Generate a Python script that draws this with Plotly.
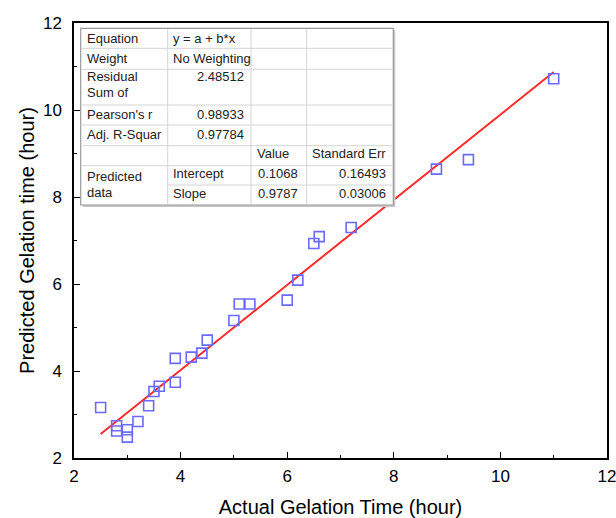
import plotly.graph_objects as go

# ---------------- data ----------------
actual_time = [2.5, 2.8, 2.8, 3.0, 3.0, 3.2, 3.4, 3.5, 3.6, 3.9, 3.9, 4.2, 4.4,
               4.5, 5.0, 5.1, 5.3, 6.0, 6.2, 6.5, 6.6, 7.2, 8.8, 9.4, 11.0]
predicted_time = [3.16, 2.74, 2.62, 2.65, 2.48, 2.84, 3.20, 3.53, 3.65, 3.74, 4.29,
                  4.32, 4.41, 4.71, 5.16, 5.54, 5.54, 5.63, 6.09, 6.93, 7.09, 7.30,
                  8.64, 8.86, 10.72]

fit_intercept = 0.1068
fit_slope = 0.9787
fit_range = [2.5, 11.0]

stat_labels = ["Equation", "Weight", "Residual", "Sum of", "Pearson's r", "Adj. R-Squar"]
stat_values = ["y = a + b*x", "No Weighting", "2.48512", "", "0.98933", "0.97784"]
param_header = ["Value", "Standard Err"]
param_group = ["Predicted", "data"]
param_names = ["Intercept", "Slope"]
param_values = ["0.1068", "0.9787"]
param_errors = ["0.16493", "0.03006"]

x_ticks = [2, 4, 6, 8, 10, 12]
y_ticks = [2, 4, 6, 8, 10, 12]

# ---------------- layout geometry ----------------
W, H = 616, 518
ML, MR, MT, MB = 74, 9, 23, 60
PW, PH = W - ML - MR, H - MT - MB


def px(xpix):
    return (xpix - ML) / PW


def py(ypix):
    return 1 - (ypix - MT) / PH


FONT = "Liberation Sans, Arial, sans-serif"

fig = go.Figure()

fit_y = [fit_intercept + fit_slope * v for v in fit_range]
fig.add_trace(go.Scatter(x=fit_range, y=fit_y, mode="lines",
                         line=dict(color="#ff2a2a", width=2), showlegend=False,
                         hoverinfo="skip"))
fig.add_trace(go.Scatter(x=actual_time, y=predicted_time, mode="markers",
                         marker=dict(symbol="square-open", size=10,
                                     color="#6a6aff", line=dict(width=1.6)),
                         showlegend=False))

shapes = []
annotations = []

# table frame
tl, tr, tt, tb = 80.7, 393.3, 28.3, 205
shapes.append(dict(type="rect", xref="paper", yref="paper",
                   x0=px(tl + 2), x1=px(tr + 2), y0=py(tb + 2), y1=py(tt + 2),
                   line=dict(width=0), fillcolor="#c8c8c8", layer="above"))
shapes.append(dict(type="rect", xref="paper", yref="paper",
                   x0=px(tl), x1=px(tr), y0=py(tb), y1=py(tt),
                   line=dict(color="#9a9a9a", width=1.2), fillcolor="white",
                   layer="above"))
cols = [80.7, 167.7, 251, 306.7, 393.3]
rows = [48.3, 69.3, 105, 125, 145.7, 165.7]
grid_c = "#d4d4d4"
for r in rows:
    shapes.append(dict(type="line", xref="paper", yref="paper",
                       x0=px(tl + 1), x1=px(tr - 1), y0=py(r), y1=py(r),
                       line=dict(color=grid_c, width=1), layer="above"))
shapes.append(dict(type="line", xref="paper", yref="paper",
                   x0=px(cols[1]), x1=px(tr - 1), y0=py(185), y1=py(185),
                   line=dict(color=grid_c, width=1), layer="above"))
for c in cols[1:-1]:
    shapes.append(dict(type="line", xref="paper", yref="paper",
                       x0=px(c), x1=px(c), y0=py(tt + 1), y1=py(tb - 1),
                       line=dict(color=grid_c, width=1), layer="above"))


def txt(text, xpix, ypix, anchor="left"):
    annotations.append(dict(text=text, xref="paper", yref="paper",
                            x=px(xpix), y=py(ypix), xanchor=anchor,
                            yanchor="middle", showarrow=False,
                            font=dict(family=FONT, size=13, color="#222")))


label_y = [38.3, 58.3, 76.7, 92.3, 114.3, 134.3]
for lab, yy in zip(stat_labels, label_y):
    txt(lab, 85, yy)
for val, yy in zip(stat_values, label_y):
    if not val:
        continue
    if val[0].isdigit():
        txt(val, 246, yy, "right")
    else:
        txt(val, 171, yy)

txt(param_header[0], 255, 153.3)
txt(param_header[1], 310, 153.3)
txt(param_group[0], 85, 176.7)
txt(param_group[1], 85, 192.7)
for name, v, e, yy in zip(param_names, param_values, param_errors, [173.3, 193.3]):
    txt(name, 171, yy)
    txt(v, 300, yy, "right")
    txt(e, 388, yy, "right")

axis_common = dict(showline=True, linecolor="black", linewidth=1.5, mirror=True,
                   ticks="inside", ticklen=6, tickwidth=1.3, tickcolor="black",
                   showgrid=False, zeroline=False, automargin=False,
                   tickfont=dict(family=FONT, size=17, color="black"),
                   minor=dict(ticks="inside", ticklen=3.5, tickwidth=1.2,
                              tickcolor="black", dtick=1, showgrid=False))

fig.update_xaxes(range=[2, 12], tickvals=x_ticks, ticklabelstandoff=2,
                 ticklabeloverflow="allow",
                 title=dict(text="Actual Gelation Time (hour)", standoff=18,
                            font=dict(family=FONT, size=20, color="black")),
                 **axis_common)
fig.update_yaxes(range=[2, 12], tickvals=y_ticks, ticklabelstandoff=7,
                 title=dict(text="Predicted Gelation time (hour)", standoff=3,
                            font=dict(family=FONT, size=20, color="black")),
                 **axis_common)

fig.update_layout(width=W, height=H, margin=dict(l=ML, r=MR, t=MT, b=MB),
                  plot_bgcolor="white", paper_bgcolor="white",
                  shapes=shapes, annotations=annotations,
                  font=dict(family=FONT))

fig.write_html("out.html", config={"displayModeBar": False},
               post_script="document.body.style.margin='0';"
                           "document.body.style.padding='0';"
                           "document.body.style.overflow='hidden';")
